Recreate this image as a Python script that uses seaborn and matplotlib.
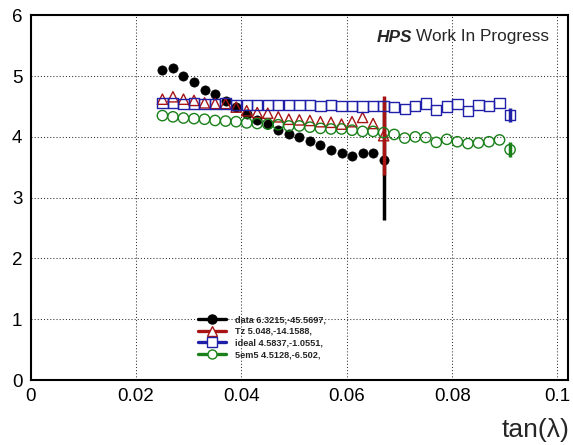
import matplotlib
matplotlib.use("Agg")
import matplotlib.pyplot as plt
from matplotlib.lines import Line2D
from matplotlib.ticker import MultipleLocator, FixedLocator, FixedFormatter
import numpy as np
import pandas as pd
import seaborn as sns

# ---- data ----
tan_lambda = [0.025, 0.027, 0.029, 0.031, 0.033, 0.035, 0.037, 0.039, 0.041, 0.043,
              0.045, 0.047, 0.049, 0.051, 0.053, 0.055, 0.057, 0.059, 0.061, 0.063,
              0.065, 0.067, 0.069, 0.071, 0.073, 0.075, 0.077, 0.079, 0.081, 0.083,
              0.085, 0.087, 0.089, 0.091]

data_vals = [5.10, 5.14, 5.00, 4.90, 4.77, 4.70, 4.59, 4.49, 4.38, 4.28,
             4.21, 4.11, 4.05, 3.99, 3.94, 3.86, 3.79, 3.74, 3.69, 3.74,
             3.73, 3.62]
data_err = [0] * 21 + [0.98]

tz_vals = [4.62, 4.66, 4.62, 4.60, 4.56, 4.55, 4.55, 4.49, 4.43, 4.40,
           4.39, 4.33, 4.29, 4.28, 4.27, 4.25, 4.24, 4.21, 4.25, 4.32,
           4.22, 4.02]
tz_err = [0] * 21 + [0.65]

ideal_vals = [4.56, 4.56, 4.54, 4.55, 4.54, 4.54, 4.55, 4.52, 4.52, 4.53,
              4.52, 4.52, 4.52, 4.52, 4.52, 4.51, 4.52, 4.51, 4.51, 4.50,
              4.51, 4.51, 4.49, 4.46, 4.51, 4.55, 4.44, 4.50, 4.54, 4.43,
              4.52, 4.51, 4.56, 4.36]
ideal_err = [0] * 33 + [0.12]

em5_vals = [4.35, 4.33, 4.31, 4.30, 4.29, 4.27, 4.26, 4.25, 4.23, 4.22,
            4.21, 4.20, 4.18, 4.18, 4.16, 4.14, 4.13, 4.13, 4.11, 4.09,
            4.09, 4.07, 4.04, 3.98, 4.00, 3.99, 3.91, 3.96, 3.92, 3.89,
            3.90, 3.92, 3.95, 3.79]
em5_err = [0] * 33 + [0.12]

labels = ["data 6.3215,-45.5697,", "Tz 5.048,-14.1588,",
          "ideal 4.5837,-1.0551,", "5em5 4.5128,-6.502,"]
x_ticks = [0, 0.02, 0.04, 0.06, 0.08, 0.1]
x_tick_labels = ["0", "0.02", "0.04", "0.06", "0.08", "0.1"]
y_ticks = [0, 1, 2, 3, 4, 5, 6]

# ---- style ----
sns.set_style("white")
plt.rcParams["font.family"] = ["Liberation Sans", "DejaVu Sans"]

fig = plt.figure(figsize=(5.73, 4.45), dpi=100)
ax = fig.add_axes([0.0536, 0.146, 0.9377, 0.8196])

series = [
    (data_vals, data_err, "black", "o", "full"),
    (tz_vals, tz_err, "#a81414", "^", "none"),
    (ideal_vals, ideal_err, "#1f1fa8", "s", "none"),
    (em5_vals, em5_err, "#1a801a", "o", "none"),
]

frames = []
for i, (vals, errs, col, mk, fill) in enumerate(series):
    n = len(vals)
    frames.append(pd.DataFrame({"x": tan_lambda[:n], "y": vals, "err": errs,
                                "series": labels[i]}))

for i, (vals, errs, col, mk, fill) in enumerate(series):
    df = frames[i]
    big = df[df["err"] > 0]
    ax.errorbar(big["x"], big["y"], yerr=big["err"], fmt="none", ecolor=col,
                elinewidth=2.5, capsize=0, zorder=2 + i)
    if fill == "full":
        sns.scatterplot(data=df, x="x", y="y", ax=ax, marker=mk, s=44,
                        color=col, edgecolor=col, linewidth=0.5, zorder=3 + i,
                        legend=False)
    else:
        sns.scatterplot(data=df, x="x", y="y", ax=ax, marker=mk, s=55,
                        facecolor="none", edgecolor=col, linewidth=1.0,
                        zorder=3 + i, legend=False)

ax.set_xlim(0, 0.102)
ax.set_ylim(0, 6)
ax.xaxis.set_major_locator(FixedLocator(x_ticks))
ax.xaxis.set_major_formatter(FixedFormatter(x_tick_labels))
ax.xaxis.set_minor_locator(MultipleLocator(0.005))
ax.yaxis.set_major_locator(FixedLocator(y_ticks))
ax.yaxis.set_minor_locator(MultipleLocator(0.2))
ax.tick_params(axis="both", which="both", direction="in", top=False, right=False,
               labelsize=13.5, colors="black")
ax.tick_params(axis="x", which="major", length=8, width=1.0, pad=6)
ax.tick_params(axis="x", which="minor", length=4, width=1.0)
ax.tick_params(axis="y", which="major", length=8, width=1.0, pad=6)
ax.tick_params(axis="y", which="minor", length=4, width=1.0)
ax.grid(True, which="major", color="#333333", linestyle=(0, (1, 2.0)), linewidth=0.75)
for sp in ax.spines.values():
    sp.set_color("black")
    sp.set_linewidth(1.5)
ax.set_xlabel("")
ax.set_ylabel("")

fig.text(569 / 573, 0.006, "tan(λ)", ha="right", va="bottom", fontsize=19)

# "HPS Work In Progress" right-aligned near the top right of the frame
t2 = fig.text(549 / 573, 1 - 37 / 445, "Work In Progress", ha="right",
              va="center", fontsize=12.4)
fig.canvas.draw()
bb = t2.get_window_extent()
fig.text(bb.x0 / fig.bbox.width - 0.007, 1 - 37 / 445, "HPS", ha="right",
         va="center", fontsize=12.4, fontweight="bold", fontstyle="italic")

handles = []
for vals, errs, col, mk, fill in series:
    handles.append(Line2D([0], [0], color=col, linewidth=2.4, marker=mk,
                          markersize=6.5,
                          markerfacecolor=col if fill == "full" else "white",
                          markeredgecolor=col, markeredgewidth=1.0))
leg = fig.legend(handles, labels, loc="upper left",
                 bbox_to_anchor=(198 / 573, 1 - 315 / 445), frameon=False,
                 prop={"size": 6.6, "weight": "bold"}, handlelength=3.0,
                 handletextpad=1.0, labelspacing=0.3, borderpad=0,
                 borderaxespad=0)

fig.savefig("out.png", dpi=100)
